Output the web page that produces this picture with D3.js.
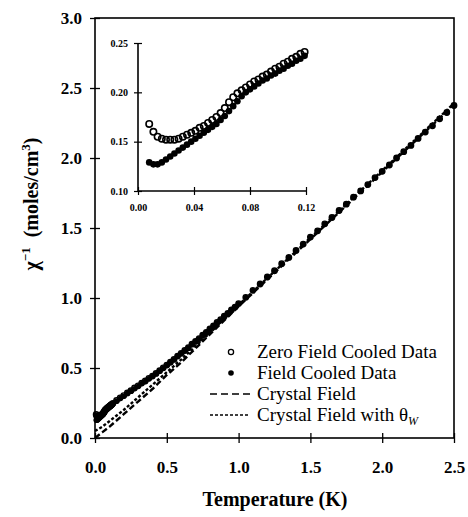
<!DOCTYPE html>
<html>
<head>
<meta charset="utf-8">
<script src="https://cdn.jsdelivr.net/npm/d3@7"></script>
<style>
  body { margin: 0; background: #fff; }
  svg { display: block; }
  text { font-family: "Liberation Serif", "DejaVu Serif", serif; fill: #000; }
</style>
</head>
<body>
<svg id="chart" width="468" height="517"></svg>
<script>
// temperatures (K) shared by both measured series
const temps = [
  0.008, 0.011, 0.014, 0.017, 0.020, 0.023, 0.026, 0.029, 0.032, 0.035,
  0.038, 0.041, 0.044, 0.047, 0.050, 0.053, 0.056, 0.059, 0.062, 0.065,
  0.068, 0.071, 0.074, 0.077, 0.080, 0.083, 0.086, 0.089, 0.092, 0.095,
  0.098, 0.101, 0.104, 0.107, 0.110, 0.113, 0.116, 0.119,
  0.125, 0.15, 0.175, 0.2, 0.225, 0.25, 0.275, 0.3, 0.325, 0.35,
  0.375, 0.4, 0.425, 0.45, 0.475, 0.5, 0.525, 0.55, 0.575, 0.6,
  0.625, 0.65, 0.675, 0.7, 0.725, 0.75, 0.775, 0.8, 0.825, 0.85,
  0.875, 0.9, 0.925, 0.95, 0.975, 1.0,
  1.05, 1.1, 1.15, 1.2, 1.25, 1.3, 1.35, 1.4, 1.45, 1.5,
  1.55, 1.6, 1.65, 1.7, 1.75, 1.8, 1.85, 1.9, 1.95, 2.0,
  2.05, 2.1, 2.15, 2.2, 2.25, 2.3, 2.35, 2.4, 2.45, 2.5
];

// zero field cooled, 1/chi (moles/cm3)
const zfc = [
  0.168, 0.160, 0.155, 0.153, 0.152, 0.152, 0.152, 0.153, 0.155, 0.157,
  0.159, 0.161, 0.164, 0.166, 0.169, 0.172, 0.175, 0.179, 0.184, 0.190,
  0.195, 0.199, 0.202, 0.205, 0.208, 0.211, 0.213, 0.216, 0.218, 0.221,
  0.224, 0.226, 0.229, 0.231, 0.234, 0.236, 0.239, 0.241,
  0.248, 0.268, 0.287, 0.303, 0.322, 0.338, 0.357, 0.373, 0.392, 0.407,
  0.426, 0.442, 0.461, 0.481, 0.501, 0.521, 0.541, 0.561, 0.585, 0.605,
  0.625, 0.645, 0.67, 0.69, 0.71, 0.735, 0.755, 0.78, 0.80, 0.825,
  0.845, 0.87, 0.89, 0.915, 0.935, 0.96,
  1.005, 1.055, 1.10, 1.15, 1.195, 1.245, 1.29, 1.34, 1.385, 1.435,
  1.48, 1.53, 1.575, 1.625, 1.67, 1.72, 1.765, 1.81, 1.86, 1.905,
  1.95, 2.0, 2.045, 2.09, 2.14, 2.185, 2.23, 2.28, 2.325, 2.375
];

// field cooled, 1/chi (moles/cm3)
const fc = [
  0.129, 0.127, 0.127, 0.129, 0.132, 0.135, 0.138, 0.141, 0.144, 0.147,
  0.150, 0.153, 0.156, 0.159, 0.162, 0.165, 0.168, 0.172, 0.176, 0.181,
  0.186, 0.191, 0.196, 0.200, 0.203, 0.206, 0.209, 0.212, 0.214, 0.217,
  0.219, 0.222, 0.224, 0.227, 0.229, 0.232, 0.234, 0.237,
  0.243, 0.262, 0.282, 0.299, 0.318, 0.334, 0.353, 0.369, 0.389, 0.404,
  0.424, 0.440, 0.459, 0.479, 0.499, 0.519, 0.540, 0.560, 0.584, 0.604,
  0.624, 0.644, 0.669, 0.689, 0.709, 0.734, 0.754, 0.779, 0.799, 0.824,
  0.844, 0.869, 0.889, 0.914, 0.934, 0.959,
  1.004, 1.054, 1.099, 1.149, 1.194, 1.244, 1.289, 1.339, 1.384, 1.434,
  1.479, 1.529, 1.574, 1.624, 1.669, 1.719, 1.764, 1.809, 1.859, 1.904,
  1.949, 1.999, 2.044, 2.089, 2.139, 2.184, 2.229, 2.279, 2.324, 2.374
];

// crystal field model curves
const modelT = [0, 0.05, 0.1, 0.2, 0.3, 0.4, 0.5, 0.6, 0.8, 1.0, 1.25, 1.5, 1.75, 2.0, 2.25, 2.5];
const crystalField = [0.0, 0.04, 0.08, 0.17, 0.26, 0.35, 0.45, 0.54, 0.74, 0.94, 1.18, 1.42, 1.66, 1.90, 2.14, 2.38];
const crystalFieldTheta = [0.05, 0.08, 0.12, 0.20, 0.29, 0.38, 0.47, 0.56, 0.75, 0.95, 1.19, 1.43, 1.67, 1.91, 2.15, 2.39];

const xTicks = [0, 0.5, 1.0, 1.5, 2.0, 2.5];
const yTicks = [0, 0.5, 1.0, 1.5, 2.0, 2.5, 3.0];
const insetXTicks = [0, 0.04, 0.08, 0.12];
const insetYTicks = [0.10, 0.15, 0.20, 0.25];

const svg = d3.select("#chart");

const x = d3.scaleLinear().domain([0, 2.5]).range([95, 454]);
const y = d3.scaleLinear().domain([0, 3]).range([438, 18]);

// frame
svg.append("rect")
    .attr("x", x(0)).attr("y", y(3))
    .attr("width", x(2.5) - x(0)).attr("height", y(0) - y(3))
    .attr("fill", "none").attr("stroke", "#000").attr("stroke-width", 1.6);

// axes
const xAxis = svg.append("g")
    .attr("transform", `translate(0,${y(0)})`)
    .call(d3.axisBottom(x).tickValues(xTicks).tickFormat(d3.format(".1f")).tickSize(5).tickPadding(18));
const yAxis = svg.append("g")
    .attr("transform", `translate(${x(0)},0)`)
    .call(d3.axisLeft(y).tickValues(yTicks).tickFormat(d3.format(".1f")).tickSize(5).tickPadding(8));

[xAxis, yAxis].forEach(g => {
    g.select(".domain").remove();
    g.selectAll(".tick line").attr("stroke-width", 1.3);
    g.selectAll(".tick text")
        .style("font-size", "17px").style("font-weight", "bold").attr("fill", "#000");
});
xAxis.selectAll(".tick line").attr("y1", -5);
yAxis.selectAll(".tick line").attr("x1", 5);

// axis titles
svg.append("text")
    .attr("x", 275).attr("y", 506)
    .attr("text-anchor", "middle")
    .style("font-size", "20px").style("font-weight", "bold")
    .text("Temperature (K)");

const yTitle = svg.append("text")
    .attr("transform", "translate(38,204) rotate(-90)")
    .attr("text-anchor", "middle")
    .style("font-size", "20px").style("font-weight", "bold");
yTitle.append("tspan").text("\u03c7");
yTitle.append("tspan").attr("dy", -8).style("font-size", "13px").text("\u22121");
yTitle.append("tspan").attr("dy", 8).text("\u00a0\u00a0(moles/cm");
yTitle.append("tspan").attr("dy", -8).style("font-size", "13px").text("3");
yTitle.append("tspan").attr("dy", 8).text(")");

// measured points in main plot
const pts = temps.map((t, i) => ({ t: t, zfc: zfc[i], fc: fc[i] }));

svg.append("g").selectAll("circle")
    .data(pts).enter().append("circle")
    .attr("cx", d => x(d.t)).attr("cy", d => y(d.fc))
    .attr("r", 2.7).attr("fill", "#000");
svg.append("g").selectAll("circle")
    .data(pts).enter().append("circle")
    .attr("cx", d => x(d.t)).attr("cy", d => y(d.zfc))
    .attr("r", 2.7).attr("fill", "none")
    .attr("stroke", "#000").attr("stroke-width", 1.4);

// model curves
const modelLine = vals => d3.line()
    .x((d, i) => x(modelT[i]))
    .y((d, i) => y(vals[i]))(modelT);

svg.append("path")
    .attr("d", modelLine(crystalField))
    .attr("fill", "none").attr("stroke", "#000")
    .attr("stroke-width", 2.4).attr("stroke-dasharray", "6,3");
svg.append("path")
    .attr("d", modelLine(crystalFieldTheta))
    .attr("fill", "none").attr("stroke", "#000")
    .attr("stroke-width", 2.4).attr("stroke-dasharray", "3,2");

// inset
const ix = d3.scaleLinear().domain([0, 0.12]).range([138, 306]);
const iy = d3.scaleLinear().domain([0.10, 0.25]).range([191, 43]);
const insetPts = pts.filter(d => d.t <= 0.12);

const ixAxis = svg.append("g")
    .attr("transform", `translate(0,${iy(0.10)})`)
    .call(d3.axisBottom(ix).tickValues(insetXTicks).tickFormat(d3.format(".2f")).tickSize(4).tickPadding(9));
const iyAxis = svg.append("g")
    .attr("transform", `translate(${ix(0)},0)`)
    .call(d3.axisLeft(iy).tickValues(insetYTicks).tickFormat(d3.format(".2f")).tickSize(4).tickPadding(6));

[ixAxis, iyAxis].forEach(g => {
    g.select(".domain").attr("stroke-width", 1.6);
    g.selectAll(".tick line").attr("stroke-width", 1.2);
    g.selectAll(".tick text")
        .style("font-size", "10px").style("font-weight", "bold").attr("fill", "#000");
});
ixAxis.select(".domain").attr("d", `M${ix(0)},0H${ix(0.12)}`);
iyAxis.select(".domain").attr("d", `M0,${iy(0.10)}V${iy(0.25)}`);
ixAxis.selectAll(".tick line").attr("y1", -4);
iyAxis.selectAll(".tick line").attr("x1", 4);

svg.append("g").selectAll("circle")
    .data(insetPts).enter().append("circle")
    .attr("cx", d => ix(d.t)).attr("cy", d => iy(d.fc))
    .attr("r", 3.3).attr("fill", "#000");
svg.append("g").selectAll("circle")
    .data(insetPts).enter().append("circle")
    .attr("cx", d => ix(d.t)).attr("cy", d => iy(d.zfc))
    .attr("r", 3.2).attr("fill", "none")
    .attr("stroke", "#000").attr("stroke-width", 1.6);

// legend
const legend = svg.append("g");
const legendRows = [
    { label: "Zero Field Cooled Data", type: "open" },
    { label: "Field Cooled Data", type: "filled" },
    { label: "Crystal Field", type: "dash" },
    { label: "Crystal Field with ", type: "dot" }
];
legendRows.forEach((r, i) => {
    const cy = 352 + i * 21;
    if (r.type === "open") {
        legend.append("circle").attr("cx", 231).attr("cy", cy).attr("r", 2.6)
            .attr("fill", "none").attr("stroke", "#000").attr("stroke-width", 1.3);
    } else if (r.type === "filled") {
        legend.append("circle").attr("cx", 231).attr("cy", cy).attr("r", 2.8).attr("fill", "#000");
    } else {
        legend.append("line").attr("x1", 210).attr("x2", 250).attr("y1", cy).attr("y2", cy)
            .attr("stroke", "#000").attr("stroke-width", 1.6)
            .attr("stroke-dasharray", r.type === "dash" ? "7,4" : "3,2");
    }
    const t = legend.append("text").attr("x", 257).attr("y", cy + 6)
        .style("font-size", "19px").text(r.label);
    if (r.type === "dot") {
        t.append("tspan").text("\u03b8");
        t.append("tspan").attr("dy", 4).style("font-size", "12px").style("font-style", "italic").text("W");
    }
});
</script>
</body>
</html>
